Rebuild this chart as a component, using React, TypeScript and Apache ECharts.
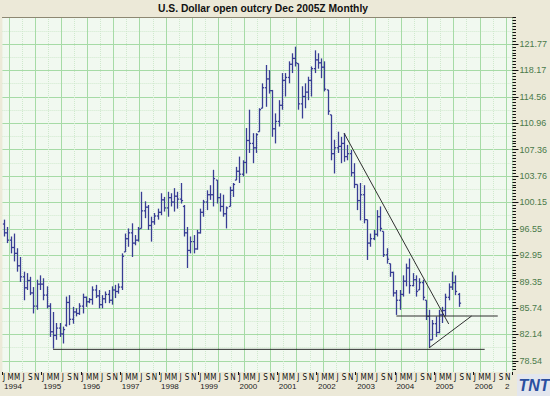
import React, { useEffect, useRef } from 'react';
import * as echarts from 'echarts';

const TITLE = 'U.S. Dollar open outcry Dec 2005Z Monthly';
const YEARS = ['1994', '1995', '1996', '1997', '1998', '1999', '2000', '2001', '2002', '2003', '2004', '2005', '2006'];
const MONTH_LETTERS = ['J', 'F', 'M', 'A', 'M', 'J', 'J', 'A', 'S', 'O', 'N', 'D'];
const PRICE_LABELS = [78.54, 82.14, 85.74, 89.35, 92.95, 96.55, 100.15, 103.76, 107.36, 110.96, 114.56, 118.17, 121.77];

// Monthly bars from Jan 1994
const HIGHS = [
  97.8, 96.8, 95.5, 95.9, 93.9, 92.7, 90.7, 90.5, 90.0, 88.6, 89.6, 90.2,
  89.8, 88.7, 86.4, 85.2, 83.7, 83.7, 83.2, 87.3, 87.5, 85.9, 85.7, 86.4,
  87.7, 87.3, 87.1, 88.7, 88.9, 88.2, 87.5, 88.0, 88.2, 88.7, 88.9, 89.1,
  93.2, 95.9, 96.6, 97.3, 95.7, 96.8, 101.6, 100.3, 99.8, 98.2, 98.7, 99.3,
  101.4, 100.9, 101.6, 101.4, 102.1, 101.6, 102.8, 99.8, 96.8, 95.5, 95.7, 96.4,
  99.3, 100.5, 101.8, 102.5, 104.6, 103.2, 101.4, 101.2, 99.6, 102.3, 102.8, 105.0,
  106.4, 105.9, 110.3, 112.8, 109.6, 109.6, 113.0, 116.4, 118.9, 118.2, 115.5, 112.3,
  114.1, 117.8, 117.8, 119.4, 120.5, 121.4, 119.1, 116.0, 116.4, 117.3, 118.7, 120.9,
  120.5, 119.8, 119.4, 115.5, 112.1, 108.7, 109.8, 109.1, 109.6, 108.0, 107.3, 105.5,
  102.6, 102.8, 102.5, 97.8, 95.9, 96.4, 99.1, 99.6, 96.2, 93.9, 91.8, 90.7,
  88.2, 88.2, 90.2, 91.8, 92.5, 90.5, 90.2, 89.8, 89.6, 86.8, 85.5, 84.1,
  84.6, 85.5, 85.9, 87.7, 89.1, 90.7, 90.2, 87.8,
];
const LOWS = [
  95.5, 94.6, 93.2, 92.1, 90.7, 89.3, 86.8, 88.2, 87.5, 85.0, 85.5, 88.2,
  86.8, 85.7, 81.8, 80.2, 81.4, 81.8, 80.9, 83.2, 83.4, 83.6, 84.6, 84.8,
  85.0, 85.9, 86.4, 86.2, 87.1, 85.7, 85.7, 86.4, 86.4, 86.2, 87.1, 87.7,
  88.2, 93.4, 94.1, 92.7, 94.3, 94.8, 96.6, 98.0, 96.4, 94.8, 97.1, 97.8,
  98.4, 98.9, 98.2, 99.6, 98.9, 99.3, 100.0, 95.5, 91.2, 93.2, 93.2, 93.7,
  95.9, 98.2, 99.1, 100.5, 99.6, 100.0, 98.9, 98.2, 96.6, 99.6, 100.9, 103.2,
  102.8, 103.7, 104.1, 106.9, 105.5, 106.9, 109.8, 113.0, 113.2, 115.0, 109.1, 108.2,
  110.5, 112.8, 114.6, 116.4, 117.8, 118.7, 112.8, 111.6, 113.0, 114.1, 114.6, 117.8,
  118.4, 117.1, 115.3, 112.1, 105.9, 104.1, 106.9, 105.5, 105.7, 105.9, 103.7, 102.1,
  99.1, 97.7, 97.3, 92.3, 94.1, 95.0, 95.5, 96.2, 92.7, 91.8, 90.0, 87.3,
  84.8, 85.5, 87.3, 88.7, 87.7, 88.7, 87.3, 88.2, 86.8, 84.1, 80.3, 81.4,
  81.8, 82.3, 83.7, 84.6, 86.8, 88.2, 87.5, 85.9,
];
const OPENS = [
  97.2, 96.0, 95.0, 94.0, 93.2, 91.5, 90.0, 88.5, 89.5, 87.8, 86.0, 89.0,
  89.0, 87.5, 86.0, 82.5, 82.0, 83.0, 82.2, 83.4, 86.5, 84.2, 85.2, 85.0,
  86.0, 87.2, 86.6, 86.9, 88.2, 87.4, 86.2, 87.0, 87.6, 86.8, 88.2, 88.0,
  88.6, 93.4, 95.2, 96.0, 94.6, 95.0, 96.6, 99.0, 99.5, 97.0, 97.5, 98.3,
  98.8, 100.5, 99.4, 100.8, 100.2, 101.0, 100.6, 99.6, 96.0, 93.6, 94.8, 93.8,
  96.0, 98.8, 100.2, 101.2, 101.2, 103.2, 100.8, 99.6, 98.6, 99.6, 101.8, 103.2,
  104.4, 104.0, 105.6, 108.6, 108.2, 107.6, 109.8, 113.0, 115.8, 117.0, 115.4, 110.2,
  111.2, 113.4, 116.8, 117.2, 119.0, 119.8, 119.1, 113.6, 114.6, 115.2, 116.8, 118.4,
  119.6, 119.2, 118.6, 115.5, 112.1, 106.8, 107.6, 107.8, 108.2, 106.4, 106.8, 104.2,
  102.6, 100.4, 101.2, 97.8, 94.6, 95.2, 95.8, 98.2, 96.2, 93.0, 91.8, 90.6,
  87.8, 86.8, 87.6, 89.4, 91.2, 88.8, 89.6, 88.2, 89.2, 86.8, 84.6, 81.4,
  83.6, 82.4, 84.8, 85.4, 87.2, 88.6, 89.2, 87.6,
];
const CLOSES = [
  96.0, 95.0, 94.0, 93.2, 91.5, 90.0, 88.5, 89.5, 87.8, 86.0, 89.0, 89.0,
  87.5, 86.0, 82.5, 82.0, 83.0, 82.2, 82.8, 86.5, 84.2, 85.2, 85.0, 86.0,
  87.2, 86.6, 86.9, 88.2, 87.4, 86.2, 87.0, 87.6, 86.8, 88.2, 88.0, 88.6,
  92.8, 95.2, 96.0, 94.6, 95.0, 96.5, 99.0, 99.5, 97.0, 97.5, 98.3, 98.8,
  100.5, 99.4, 100.8, 100.2, 101.0, 100.6, 100.4, 96.0, 93.6, 94.8, 93.8, 96.0,
  98.8, 100.2, 101.2, 101.2, 103.4, 100.8, 99.6, 98.6, 99.4, 101.8, 102.6, 104.4,
  104.0, 105.6, 108.6, 108.2, 107.6, 109.4, 112.8, 115.8, 117.0, 115.4, 110.2, 111.2,
  113.4, 116.8, 117.2, 119.0, 119.8, 119.2, 113.6, 114.6, 115.2, 116.8, 118.4, 119.6,
  119.2, 118.6, 115.6, 112.6, 106.8, 107.6, 107.8, 108.2, 106.4, 106.8, 104.2, 102.6,
  100.4, 101.2, 97.8, 94.6, 95.2, 95.8, 98.2, 96.6, 93.0, 92.4, 90.6, 87.8,
  86.8, 87.6, 89.4, 91.2, 88.8, 89.6, 88.0, 89.2, 87.2, 84.6, 81.4, 83.6,
  82.4, 84.8, 85.4, 87.2, 88.6, 89.2, 88.0, 86.4,
];

// Trend lines drawn on the chart: [month, price] endpoints
const TREND_LINES: { from: [string, number]; to: [string, number] }[] = [
  { from: ['1995-04', 80.1], to: ['2006-04', 80.1] },
  { from: ['2004-01', 84.65], to: ['2006-08', 84.65] },
  { from: ['2002-09', 109.6], to: ['2005-05', 83.56] },
  { from: ['2004-11', 80.3], to: ['2005-12', 84.65] },
];

const Y_MIN = 77.01;
const Y_MAX = 125.45;
const BAR_COLOR = '#383d94';
const FONT = '"Liberation Sans", Arial, sans-serif';
const NARROW = '"Liberation Sans Narrow", "DejaVu Sans Condensed", "Liberation Sans", sans-serif';

function buildOption() {
  const months: string[] = [];
  YEARS.forEach((y) => MONTH_LETTERS.forEach((_, m) => months.push(`${y}-${String(m + 1).padStart(2, '0')}`)));

  const labelStep = (PRICE_LABELS[PRICE_LABELS.length - 1] - PRICE_LABELS[0]) / (PRICE_LABELS.length - 1);
  const minorStep = labelStep / 9;
  const minorTicks: number[] = [];
  for (let k = -20; k < 200; k++) {
    const v = PRICE_LABELS[0] + k * minorStep;
    if (v >= Y_MIN && v <= Y_MAX) minorTicks.push(+v.toFixed(3));
  }
  const mids: number[] = [];
  for (let k = -2; k < PRICE_LABELS.length + 1; k++) {
    const v = PRICE_LABELS[0] + (k + 0.5) * labelStep;
    if (v >= Y_MIN && v <= Y_MAX) mids.push(+v.toFixed(3));
  }

  const ohlc = HIGHS.map((h, i) => [months[i], OPENS[i], CLOSES[i], LOWS[i], h]);

  const baseY = {
    type: 'value' as const,
    position: 'right' as const,
    min: Y_MIN,
    max: Y_MAX,
    scale: true,
    axisLine: { show: false },
  };

  return {
    animation: false,
    backgroundColor: '#ECE9D8',
    grid: {
      left: 0,
      right: 35,
      top: 17,
      bottom: 24,
      show: true,
      backgroundColor: '#f1f9f0',
      borderWidth: 0,
    },
    xAxis: [
      {
        type: 'category',
        data: months,
        position: 'bottom',
        boundaryGap: true,
        axisLine: { show: false },
        axisTick: { show: true, interval: (i: number) => i % 12 === 0, length: 3, lineStyle: { color: '#111' } },
        axisLabel: {
          interval: (i: number) => i % 2 === 0,
          formatter: (_v: string, i: number) => MONTH_LETTERS[i % 12],
          fontSize: 8,
          color: '#111',
          margin: 1,
          fontFamily: NARROW,
        },
        splitLine: {
          show: true,
          interval: (i: number) => i >= 2 && (i - 2) % 8 === 0,
          lineStyle: { color: '#a6dba6', width: 1 },
        },
      },
      {
        type: 'category',
        data: months,
        position: 'bottom',
        offset: 9,
        axisLine: { show: false },
        axisTick: { show: false },
        axisLabel: {
          interval: (i: number) => i % 12 === 0,
          formatter: (v: string) => v.slice(0, 4),
          align: 'left',
          fontSize: 8,
          color: '#222',
          margin: 1,
          fontFamily: FONT,
        },
        splitLine: { show: false },
      },
      {
        type: 'category',
        data: months,
        position: 'bottom',
        axisLine: { show: false },
        axisTick: { show: false },
        axisLabel: { show: false },
        splitLine: {
          show: true,
          interval: (i: number) => i >= 6 && (i - 6) % 8 === 0,
          lineStyle: { color: '#cfe9cd', type: 'dotted', width: 1 },
        },
      },
      {
        type: 'category',
        data: months,
        position: 'top',
        axisLine: { show: true, lineStyle: { color: '#8d8872', width: 1 } },
        axisTick: { show: false },
        axisLabel: { show: false },
        splitLine: { show: false },
      },
    ],
    yAxis: [
      {
        ...baseY,
        axisTick: { show: true, customValues: PRICE_LABELS, length: 6, lineStyle: { color: '#111' } },
        axisLabel: {
          customValues: PRICE_LABELS,
          formatter: (v: number) => v.toFixed(2),
          margin: 7,
          fontSize: 9,
          color: '#4a7a4a',
          fontFamily: FONT,
        },
        splitLine: { show: true, lineStyle: { color: '#a6dba6', width: 1 } },
      },
      {
        ...baseY,
        axisTick: { show: true, customValues: minorTicks, length: 3.5, lineStyle: { color: '#111' } },
        axisLabel: { show: false },
        splitLine: { show: false },
      },
      {
        ...baseY,
        axisTick: { show: false, customValues: mids },
        axisLabel: { show: false },
        splitLine: { show: true, lineStyle: { color: '#cfe9cd', type: 'dotted', width: 1 } },
      },
    ],
    series: [
      {
        type: 'custom',
        xAxisIndex: 0,
        yAxisIndex: 0,
        clip: true,
        encode: { x: 0, y: [1, 2, 3, 4] },
        data: ohlc,
        renderItem: (_params: any, api: any) => {
          const idx = api.value(0);
          const o = api.coord([idx, api.value(1)]);
          const c = api.coord([idx, api.value(2)]);
          const l = api.coord([idx, api.value(3)]);
          const h = api.coord([idx, api.value(4)]);
          const x = Math.round(o[0]) + 0.5;
          const style = { stroke: BAR_COLOR, lineWidth: 1.3 };
          return {
            type: 'group',
            children: [
              { type: 'line', shape: { x1: x, y1: h[1], x2: x, y2: l[1] }, style },
              { type: 'line', shape: { x1: x - 1.6, y1: o[1], x2: x, y2: o[1] }, style },
              { type: 'line', shape: { x1: x, y1: c[1], x2: x + 1.6, y2: c[1] }, style },
            ],
          };
        },
      },
      ...TREND_LINES.map((t) => ({
        type: 'line',
        xAxisIndex: 0,
        yAxisIndex: 0,
        data: [t.from, t.to],
        symbol: 'none',
        lineStyle: { color: '#2f2f2f', width: 1 },
        silent: true,
      })),
    ],
    graphic: [
      {
        type: 'text',
        x: 263,
        y: 8,
        style: {
          text: TITLE,
          fill: '#111',
          font: `bold 10.3px ${FONT}`,
          textAlign: 'center',
          textVerticalAlign: 'middle',
        },
      },
      {
        type: 'text',
        x: 505,
        y: 382,
        style: { text: '2', fill: '#222', font: `8px ${FONT}` },
      },
      {
        type: 'rect',
        shape: { x: 517, y: 374, width: 33, height: 22 },
        style: { fill: '#e3e6ee' },
      },
      {
        type: 'text',
        x: 534,
        y: 385,
        style: {
          text: 'TNT',
          fill: '#2a4fa0',
          font: `italic bold 16px ${FONT}`,
          textAlign: 'center',
          textVerticalAlign: 'middle',
        },
      },
    ],
  };
}

export default function App() {
  const ref = useRef<HTMLDivElement>(null);
  useEffect(() => {
    if (!ref.current) return;
    const chart = echarts.init(ref.current, null, { renderer: 'svg' });
    chart.setOption(buildOption() as any);
    return () => chart.dispose();
  }, []);
  return <div ref={ref} style={{ position: 'fixed', left: 0, top: 0, width: 550, height: 396 }} />;
}
